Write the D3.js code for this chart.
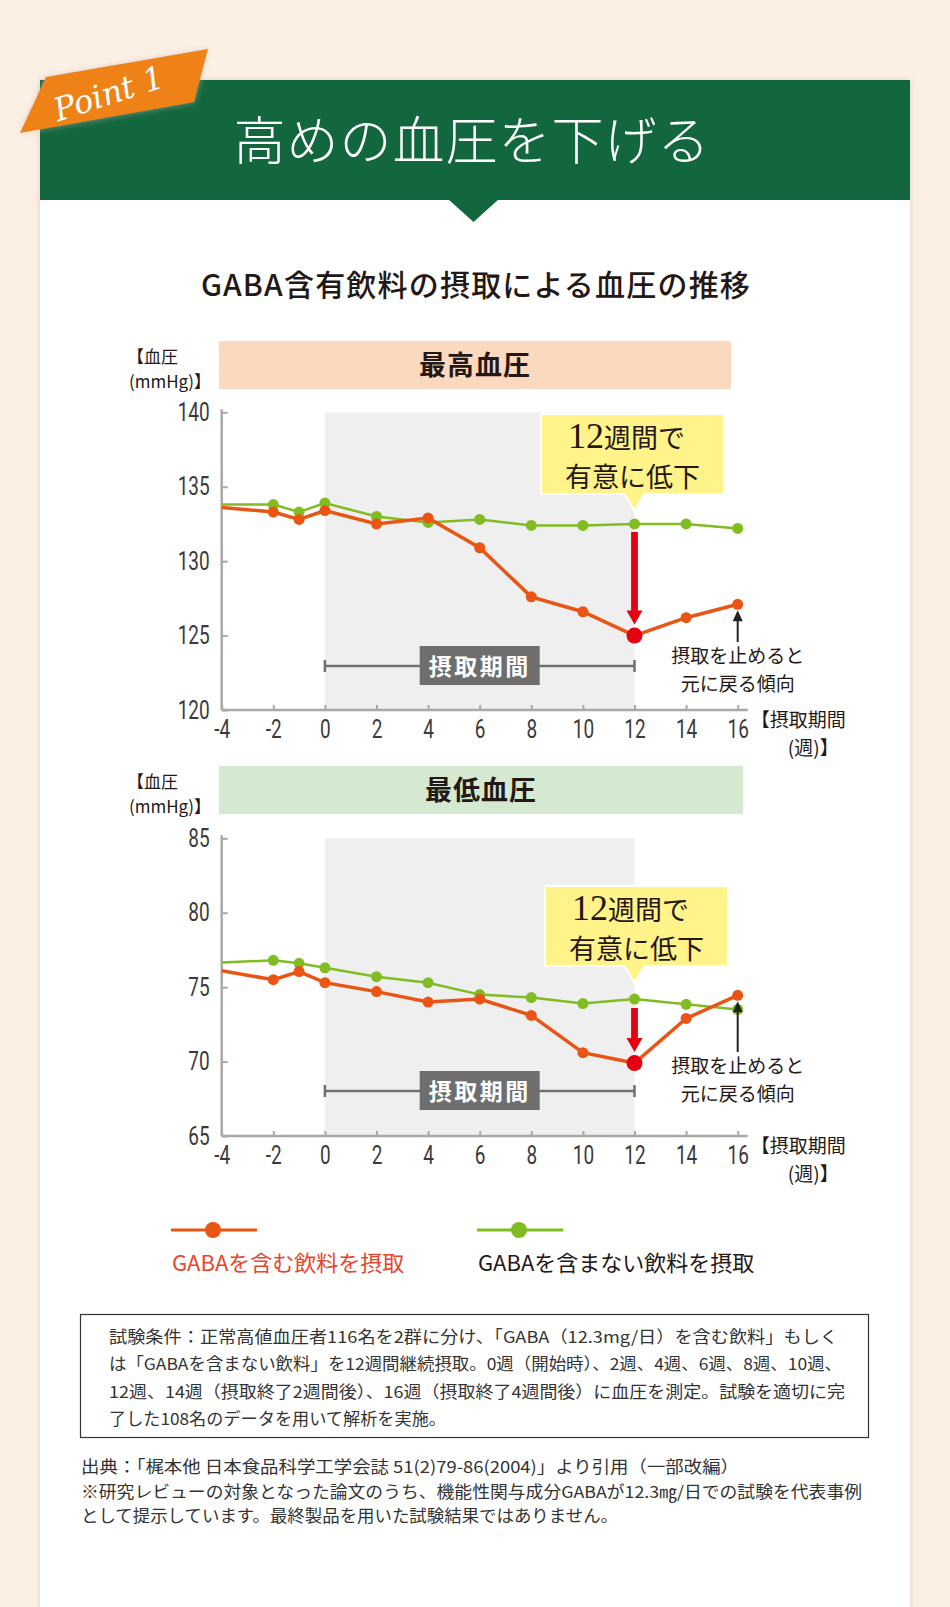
<!DOCTYPE html>
<html><head><meta charset="utf-8">
<script src="https://cdn.jsdelivr.net/npm/d3@7"></script>
<style>
body{margin:0;background:#fcf0e5;}
svg{display:block}
</style>
</head><body>
<svg id="c" width="950" height="1607"></svg>
<script>
// ---------- DATA ----------
const weeks      = [-4, -2, -1, 0, 2, 4, 6, 8, 10, 12, 14, 16];
const sysGaba    = [133.6, 133.3, 132.8, 133.4, 132.5, 132.9, 130.9, 127.6, 126.6, 125.0, 126.2, 127.1];
const sysControl = [133.8, 133.8, 133.3, 133.9, 133.0, 132.6, 132.8, 132.4, 132.4, 132.5, 132.5, 132.2];
const diaGaba    = [76.1, 75.5, 76.05, 75.3, 74.7, 74.0, 74.2, 73.1, 70.6, 69.9, 72.9, 74.45];
const diaControl = [76.65, 76.8, 76.6, 76.3, 75.7, 75.3, 74.5, 74.3, 73.9, 74.2, 73.85, 73.5];
const xTicks     = [-4, -2, 0, 2, 4, 6, 8, 10, 12, 14, 16];
const sysTicks   = [120, 125, 130, 135, 140];
const diaTicks   = [65, 70, 75, 80, 85];
const intakeStart = 0, intakeEnd = 12, sigWeek = 12, stopWeek = 16;
const seriesNames = ["GABAを含む飲料を摂取", "GABAを含まない飲料を摂取"];
const panelTitles = ["最高血圧", "最低血圧"];

const conditionLines = [
  "試験条件：正常高値血圧者116名を2群に分け、「GABA（12.3mg/日）を含む飲料」もしく",
  "は「GABAを含まない飲料」を12週間継続摂取。0週（開始時）、2週、4週、6週、8週、10週、",
  "12週、14週（摂取終了2週間後）、16週（摂取終了4週間後）に血圧を測定。試験を適切に完",
  "了した108名のデータを用いて解析を実施。"
];
const sourceLines = [
  "出典：「梶本他 日本食品科学工学会誌 51(2)79-86(2004)」より引用（一部改編）",
  "※研究レビューの対象となった論文のうち、機能性関与成分GABAが12.3㎎/日での試験を代表事例",
  "として提示しています。最終製品を用いた試験結果ではありません。"
];

// ---------- STYLE ----------
const C = {
  orange: "#ea5514", green: "#82bc23", red: "#e60012", axis: "#a8a8a8",
  shade: "#eeefee", bar: "#707070", text: "#231815", yellow: "#fff38a"
};
const JP = "'Noto Sans CJK JP','Noto Sans',sans-serif";
const NUM = "'Roboto','Liberation Sans',sans-serif";
const NX = 0.76; // horizontal condensing of tick numerals

const svg = d3.select("#c");

// background panel with shadow
const defs = svg.append("defs");
const f = defs.append("filter").attr("id","sh").attr("x","-5%").attr("y","-5%").attr("width","110%").attr("height","110%");
f.append("feDropShadow").attr("dx",0).attr("dy",0).attr("stdDeviation",3).attr("flood-color","#c9b8a8").attr("flood-opacity",0.6);
svg.append("rect").attr("x",40).attr("y",80).attr("width",870).attr("height",1540).attr("fill","#fff").attr("filter","url(#sh)");

// green header
svg.append("rect").attr("x",40).attr("y",80).attr("width",870).attr("height",120).attr("fill","#12673f");
svg.append("path").attr("d","M448,199 L499,199 L473.5,222 Z").attr("fill","#12673f");
svg.append("text").attr("x",472).attr("y",160).attr("text-anchor","middle")
  .attr("font-family","'Noto Sans CJK JP'").attr("font-weight",300).attr("font-size",52)
  .attr("letter-spacing",1).attr("fill","#fff").text("高めの血圧を下げる");

// orange tag
svg.append("path").attr("d","M46,77 L208,49 L194,102 L20,133 Z").attr("fill","#ee8212")
  .attr("filter","url(#sh)");
svg.append("text").attr("transform","translate(112,104) rotate(-18)").attr("text-anchor","middle")
  .attr("font-family","'DejaVu Serif',serif").attr("font-style","italic").attr("font-size",32)
  .attr("fill","#fff").text("Point 1");

// title
svg.append("text").attr("x",476).attr("y",296).attr("text-anchor","middle")
  .attr("font-family",JP).attr("font-weight",500).attr("font-size",30).attr("letter-spacing",1.2)
  .attr("fill",C.text).text("GABA含有飲料の摂取による血圧の推移");

// ---------- CHARTS ----------
const x = d3.scaleLinear().domain([-4,16]).range([221.7,737.7]);

function twoLine(g, xx, yy, lines, dy, anchor, size){
  const t = g.append("text").attr("font-family",JP).attr("font-size",size).attr("fill",C.text).attr("text-anchor",anchor);
  lines.forEach((s,i)=>t.append("tspan").attr("x",xx[i]).attr("y",yy+i*dy).text(s));
  return t;
}

function chart(cfg){
  const y = d3.scaleLinear().domain(cfg.domain).range([cfg.bottom, cfg.bottom-297.7]);
  const g = svg.append("g");
  const [y0,y1] = cfg.domain;

  // header band
  g.append("rect").attr("x",219).attr("y",cfg.headY).attr("width",cfg.headW).attr("height",48).attr("fill",cfg.headColor);
  g.append("text").attr("x",219+cfg.headW/2).attr("y",cfg.headY+34).attr("text-anchor","middle")
    .attr("font-family",JP).attr("font-weight",700).attr("font-size",27).attr("letter-spacing",1)
    .attr("fill",C.text).text(cfg.title);
  // y label
  twoLine(g,[127,129],cfg.headY+21.5,["【血圧","(mmHg)】"],25,"start",17);

  // shaded intake period
  g.append("rect").attr("x",x(intakeStart)).attr("y",y(y1)).attr("width",x(intakeEnd)-x(intakeStart))
    .attr("height",y(y0)-y(y1)).attr("fill",C.shade);

  // axes
  const ax = g.append("g").attr("transform",`translate(${x(-4)},0)`)
    .call(d3.axisLeft(y).tickValues(cfg.ticks).tickFormat(d=>String(d)).tickSizeInner(-6).tickSizeOuter(0).tickPadding(12));
  const bx = g.append("g").attr("transform",`translate(0,${y(y0)})`)
    .call(d3.axisBottom(x).tickValues(xTicks).tickFormat(d=>String(d)).tickSizeInner(-5).tickSizeOuter(0).tickPadding(10));
  [ax,bx].forEach(a=>{
    a.select(".domain").remove();
    a.selectAll("line").attr("stroke",C.axis).attr("stroke-width",2);
    a.selectAll("text").attr("font-family",NUM).attr("font-weight",400).attr("font-size",25).attr("fill","#3a3a3a")
      .attr("transform",`scale(${NX},1)`);
  });
  ax.selectAll("text").attr("x",-12/NX);
  g.append("line").attr("x1",x(-4)).attr("x2",x(-4)).attr("y1",y(y1)-3).attr("y2",y(y0)).attr("stroke",C.axis).attr("stroke-width",2.5);
  g.append("line").attr("x1",x(-4)).attr("x2",x(16)+10).attr("y1",y(y0)).attr("y2",y(y0)).attr("stroke",C.axis).attr("stroke-width",2.5);
  const ul = g.append("text").attr("font-family",JP).attr("font-size",19).attr("fill",C.text);
  ul.append("tspan").attr("x",x(16)+13).attr("y",y(y0)+17).text("【摂取期間");
  ul.append("tspan").attr("x",x(16)+101).attr("y",y(y0)+45).attr("text-anchor","end").text("(週)】");

  // intake period bar
  const by = cfg.barY;
  g.append("line").attr("x1",x(intakeStart)).attr("x2",x(intakeEnd)).attr("y1",by).attr("y2",by).attr("stroke",C.bar).attr("stroke-width",2.5);
  [intakeStart,intakeEnd].forEach(w=>g.append("line").attr("x1",x(w)).attr("x2",x(w)).attr("y1",by-6).attr("y2",by+6).attr("stroke",C.bar).attr("stroke-width",2.5));
  const mid = (x(intakeStart)+x(intakeEnd))/2;
  g.append("rect").attr("x",mid-60).attr("y",by-20).attr("width",120).attr("height",39).attr("fill","#6e6e6e");
  g.append("text").attr("x",mid).attr("y",by+9).attr("text-anchor","middle").attr("font-family",JP).attr("font-weight",700)
    .attr("font-size",23).attr("letter-spacing",2.5).attr("fill","#fff").text("摂取期間");

  // lines
  const line = d3.line().x(d=>x(d[0])).y(d=>y(d[1]));
  const ctrl = weeks.map((w,i)=>[w,cfg.control[i]]);
  const gaba = weeks.map((w,i)=>[w,cfg.gaba[i]]);
  g.append("path").datum(ctrl).attr("d",line).attr("fill","none").attr("stroke",C.green).attr("stroke-width",2.5);
  g.selectAll(".cd").data(ctrl.filter(d=>d[0]>-4)).join("circle").attr("cx",d=>x(d[0])).attr("cy",d=>y(d[1])).attr("r",5.5).attr("fill",C.green);
  g.append("path").datum(gaba).attr("d",line).attr("fill","none").attr("stroke",C.orange).attr("stroke-width",3.5);
  g.selectAll(".gd").data(gaba.filter(d=>d[0]>-4 && d[0]!==sigWeek)).join("circle").attr("cx",d=>x(d[0])).attr("cy",d=>y(d[1])).attr("r",5.5).attr("fill",C.orange);
  const sig = gaba.find(d=>d[0]===sigWeek);
  g.append("circle").attr("cx",x(sig[0])).attr("cy",y(sig[1])).attr("r",8).attr("fill",C.red);

  // red arrow
  const ax0 = x(sigWeek), aTop = cfg.arrowTop, aTip = y(sig[1])-11;
  g.append("rect").attr("x",ax0-3.4).attr("y",aTop).attr("width",6.8).attr("height",aTip-13-aTop).attr("fill",C.red);
  g.append("path").attr("d",`M${ax0-8},${aTip-14} L${ax0+8},${aTip-14} L${ax0},${aTip} Z`).attr("fill",C.red);

  // callout
  const bx0 = cfg.boxX, bw = cfg.boxW, bt = cfg.boxY;
  g.append("path").attr("d",`M${bx0},${bt} h${bw} v80 H${ax0+10} L${ax0},${bt+97} L${ax0-10},${bt+80} H${bx0} Z`)
    .attr("fill",C.yellow).attr("stroke","#fff").attr("stroke-width",2);
  const ct = g.append("text").attr("fill",C.text).attr("font-family",JP).attr("font-size",27);
  ct.append("tspan").attr("x",bx0+27).attr("y",bt+33.5).attr("font-family","'Liberation Serif',serif").attr("font-size",36).text("12");
  ct.append("tspan").text("週間で");
  ct.append("tspan").attr("x",bx0+24).attr("y",bt+73).text("有意に低下");

  // black arrow + note
  const stop = gaba.find(d=>d[0]===stopWeek);
  const sx = x(stopWeek), tip = y(stop[1])+6;
  g.append("line").attr("x1",sx).attr("x2",sx).attr("y1",cfg.noteY-22).attr("y2",tip+8).attr("stroke","#222").attr("stroke-width",2);
  g.append("path").attr("d",`M${sx-5},${tip+11} L${sx+5},${tip+11} L${sx},${tip} Z`).attr("fill","#222");
  twoLine(g,[sx,sx],cfg.noteY-1.5,["摂取を止めると","元に戻る傾向"],28,"middle",19);
}

chart({domain:[120,140], bottom:710, ticks:sysTicks, gaba:sysGaba, control:sysControl,
  headY:341, headW:512, headColor:"#fad9bf", title:panelTitles[0], barY:666,
  arrowTop:532, boxX:541, boxW:183, boxY:414, noteY:664});
chart({domain:[65,85], bottom:1136, ticks:diaTicks, gaba:diaGaba, control:diaControl,
  headY:766, headW:524, headColor:"#d5e9d0", title:panelTitles[1], barY:1091,
  arrowTop:1008, boxX:545, boxW:183, boxY:886, noteY:1074});

// ---------- LEGEND ----------
const legend = [
  {name:seriesNames[0], color:C.orange, tcolor:"#e8452c", x:171},
  {name:seriesNames[1], color:C.green, tcolor:C.text, x:477}
];
const lg = svg.append("g");
legend.forEach(l=>{
  lg.append("line").attr("x1",l.x).attr("x2",l.x+86).attr("y1",1230).attr("y2",1230).attr("stroke",l.color).attr("stroke-width",3);
  lg.append("circle").attr("cx",l.x+42).attr("cy",1230).attr("r",8).attr("fill",l.color);
  lg.append("text").attr("x",l.x+1).attr("y",1271).attr("font-family",JP).attr("font-size",22).attr("fill",l.tcolor).text(l.name);
});

// ---------- NOTES ----------
svg.append("rect").attr("x",80.5).attr("y",1314.5).attr("width",788).attr("height",123).attr("fill","none").attr("stroke","#333").attr("stroke-width",1.2);
const condW = [729, 733, 736, 337];
conditionLines.forEach((s,i)=>{
  svg.append("text").attr("x",109).attr("y",1343+i*27.3).attr("font-family",JP).attr("font-size",16.5)
    .attr("textLength",condW[i]).attr("lengthAdjust","spacingAndGlyphs").attr("fill","#333").text(s);
});
const srcW = [658, 781, 537];
sourceLines.forEach((s,i)=>{
  svg.append("text").attr("x",81).attr("y",1473+i*24.5).attr("font-family",JP).attr("font-size",16.5)
    .attr("textLength",srcW[i]).attr("lengthAdjust","spacingAndGlyphs").attr("fill","#333").text(s);
});
</script>
</body></html>
